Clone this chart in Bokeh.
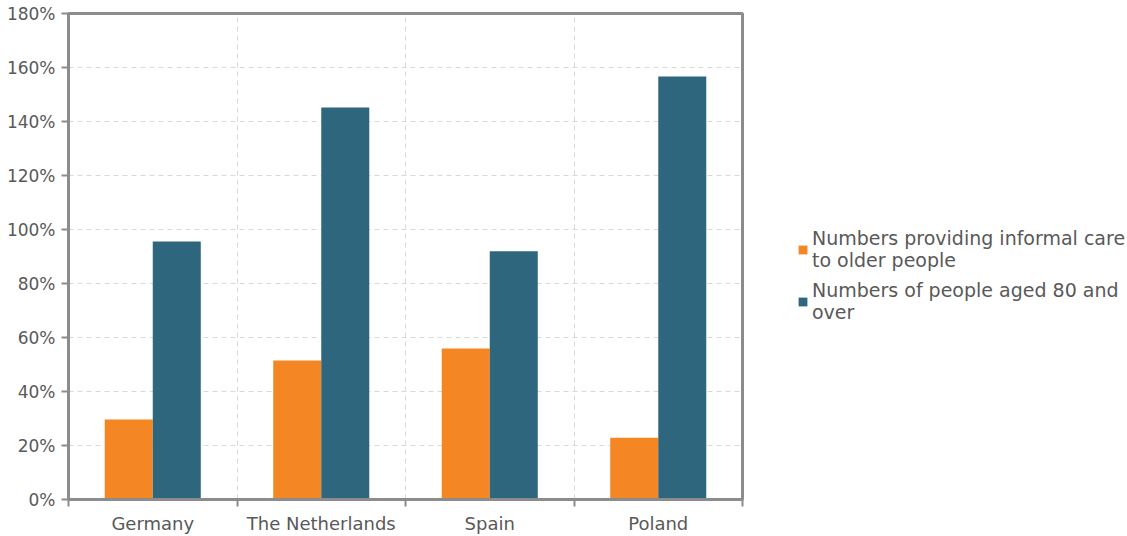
from bokeh.plotting import figure
from bokeh.models import (ColumnDataSource, FixedTicker, NumeralTickFormatter,
                          Range1d, Legend, LegendItem)
from bokeh.embed import file_html
from bokeh.resources import INLINE

countries = ["Germany", "The Netherlands", "Spain", "Poland"]
informal_care = [0.296, 0.515, 0.559, 0.229]
aged_80_plus = [0.956, 1.452, 0.919, 1.567]
series_names = ["Numbers providing informal care\nto older people",
                "Numbers of people aged 80 and\nover"]
colors = ["#F58624", "#2E677D"]

FONT = "DejaVu Sans"
TXT = "#595959"
bw = 0.285
centers = [i + 0.5 for i in range(len(countries))]

src = ColumnDataSource(dict(
    x1=[c - bw / 2 for c in centers], x2=[c + bw / 2 for c in centers],
    a=informal_care, b=aged_80_plus))

p = figure(frame_width=674, frame_height=486, output_backend="svg", toolbar_location=None,
           x_range=Range1d(0, len(countries)), y_range=Range1d(0, 1.8),
           min_border_left=68, min_border_top=13, min_border_bottom=26,
           min_border_right=0)

r1 = p.vbar(x="x1", top="a", width=bw, source=src, color=colors[0], line_color=None)
r2 = p.vbar(x="x2", top="b", width=bw, source=src, color=colors[1], line_color=None)

p.xaxis.ticker = FixedTicker(ticks=centers, minor_ticks=list(range(len(countries) + 1)))
p.xaxis.major_label_overrides = {c: n for c, n in zip(centers, countries)}
p.xaxis.major_tick_out = 0
p.xaxis.major_tick_in = 0
p.xaxis.minor_tick_out = 7
p.xaxis.minor_tick_in = 0
p.yaxis.ticker = FixedTicker(ticks=[i * 0.2 for i in range(10)])
p.yaxis.formatter = NumeralTickFormatter(format="0%")
p.yaxis.major_tick_out = 7
p.yaxis.major_tick_in = 0
for ax in (p.xaxis, p.yaxis):
    ax.axis_line_color = "#8C8C8C"
    ax.axis_line_width = 3
    ax.major_tick_line_color = "#8C8C8C"
    ax.major_tick_line_width = 2
    ax.minor_tick_line_color = "#8C8C8C"
    ax.minor_tick_line_width = 2
    ax.major_label_text_font = FONT
    ax.major_label_text_color = TXT
    ax.major_label_standoff = 6
p.xaxis.major_label_text_font_size = "18px"
p.yaxis.major_label_text_font_size = "17px"
p.yaxis.minor_tick_line_color = None

p.xgrid.ticker = FixedTicker(ticks=list(range(1, len(countries))))
for g in (p.xgrid, p.ygrid):
    g.grid_line_color = "#D9D9D9"
    g.grid_line_dash = "5 4"
    g.grid_line_width = 1

p.outline_line_color = "#8C8C8C"
p.outline_line_width = 3

legend = Legend(items=[LegendItem(label=series_names[0], renderers=[r1]),
                       LegendItem(label=series_names[1], renderers=[r2])],
                location=(55, 176))
legend.label_text_font = FONT
legend.label_text_font_size = "19px"
legend.label_text_line_height = 1.4
legend.label_text_color = TXT
legend.glyph_width = 11
legend.glyph_height = 11
legend.label_standoff = 4
legend.spacing = 8
legend.border_line_color = None
legend.background_fill_alpha = 0
legend.padding = 0
legend.margin = 0
p.add_layout(legend, "right")

open("out.html", "w").write(file_html(p, INLINE))
